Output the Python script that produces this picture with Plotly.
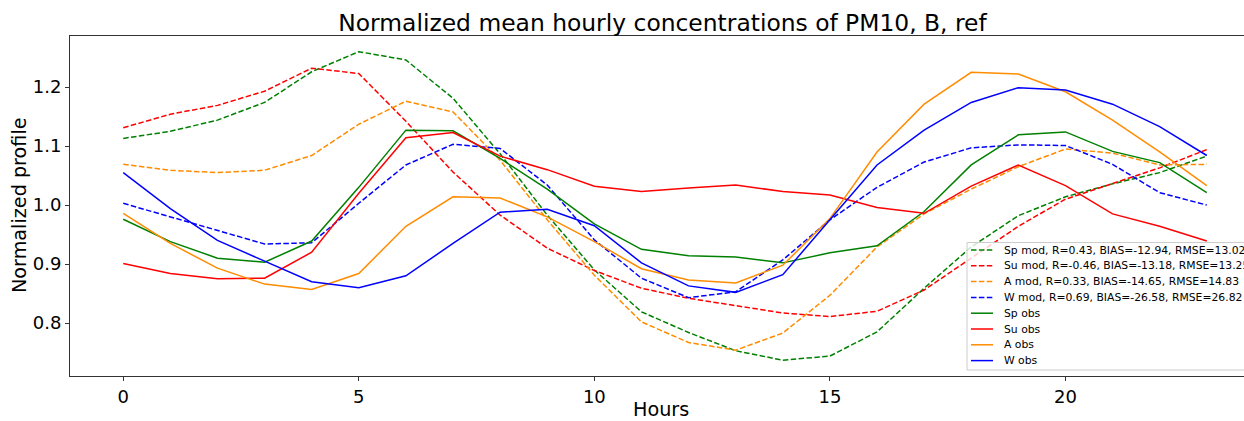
import plotly.graph_objects as go

hours = list(range(24))

sp_mod = [1.113, 1.125, 1.144, 1.174, 1.226, 1.260, 1.246, 1.181, 1.087, 0.983, 0.890, 0.819,
          0.784, 0.753, 0.737, 0.744, 0.785, 0.859, 0.929, 0.982, 1.014, 1.036, 1.055, 1.083]
su_mod = [1.131, 1.154, 1.169, 1.193, 1.232, 1.223, 1.142, 1.056, 0.983, 0.927, 0.889, 0.859,
          0.842, 0.829, 0.817, 0.811, 0.820, 0.856, 0.910, 0.964, 1.010, 1.036, 1.063, 1.094]
a_mod = [1.069, 1.059, 1.055, 1.059, 1.084, 1.137, 1.176, 1.158, 1.076, 0.975, 0.881, 0.802,
         0.767, 0.754, 0.783, 0.847, 0.929, 0.985, 1.027, 1.065, 1.095, 1.088, 1.068, 1.069]
w_mod = [1.003, 0.980, 0.958, 0.934, 0.936, 1.003, 1.068, 1.103, 1.096, 1.034, 0.941, 0.876,
         0.843, 0.853, 0.907, 0.975, 1.030, 1.073, 1.097, 1.102, 1.101, 1.069, 1.021, 1.000]
sp_obs = [0.976, 0.938, 0.910, 0.903, 0.939, 1.030, 1.127, 1.126, 1.079, 1.027, 0.968, 0.925,
          0.914, 0.912, 0.902, 0.919, 0.931, 0.989, 1.068, 1.119, 1.124, 1.091, 1.072, 1.021]
su_obs = [0.901, 0.884, 0.875, 0.876, 0.920, 1.020, 1.114, 1.123, 1.083, 1.060, 1.032, 1.023,
          1.029, 1.034, 1.023, 1.017, 0.996, 0.986, 1.032, 1.068, 1.033, 0.985, 0.964, 0.939]
a_obs = [0.986, 0.935, 0.893, 0.866, 0.857, 0.884, 0.964, 1.014, 1.012, 0.980, 0.938, 0.892,
         0.873, 0.868, 0.898, 0.977, 1.090, 1.171, 1.225, 1.222, 1.192, 1.144, 1.090, 1.033]
w_obs = [1.055, 0.994, 0.940, 0.905, 0.870, 0.860, 0.880, 0.935, 0.988, 0.993, 0.965, 0.902,
         0.863, 0.852, 0.882, 0.975, 1.068, 1.127, 1.174, 1.199, 1.195, 1.171, 1.133, 1.084]

mod_names = ["Sp mod, R=0.43, BIAS=-12.94, RMSE=13.02",
             "Su mod, R=-0.46, BIAS=-13.18, RMSE=13.25",
             "A mod, R=0.33, BIAS=-14.65, RMSE=14.83",
             "W mod, R=0.69, BIAS=-26.58, RMSE=26.82"]
obs_names = ["Sp obs", "Su obs", "A obs", "W obs"]
colors = ["green", "red", "darkorange", "blue"]
DASH = "5.5px,2.4px"

W, H = 1244, 421
L, R, T, B = 70, 0, 36, 45
PW, PH = W - L - R, H - T - B


def px(x):
    return (x - L) / PW


def py(y):
    return (H - B - y) / PH


fig = go.Figure()
entries = []
for name, ys, c in zip(mod_names, [sp_mod, su_mod, a_mod, w_mod], colors):
    fig.add_trace(go.Scatter(x=hours, y=ys, mode="lines", name=name,
                             line=dict(color=c, width=1.5, dash=DASH)))
    entries.append((name, c, DASH))
for name, ys, c in zip(obs_names, [sp_obs, su_obs, a_obs, w_obs], colors):
    fig.add_trace(go.Scatter(x=hours, y=ys, mode="lines", name=name,
                             line=dict(color=c, width=1.5)))
    entries.append((name, c, "solid"))

font = "DejaVu Sans"

# legend drawn as a box with line samples and texts (matplotlib-like compact legend)
shapes = [dict(type="rect", xref="paper", yref="paper",
               x0=px(967), x1=px(1250), y0=py(370), y1=py(242.5),
               fillcolor="rgba(255,255,255,0.8)", line=dict(color="#cccccc", width=1),
               layer="above")]
annotations = []
for i, (name, c, d) in enumerate(entries):
    yy = 250 + i * 15.8
    shapes.append(dict(type="line", xref="paper", yref="paper",
                       x0=px(971), x1=px(993), y0=py(yy), y1=py(yy),
                       line=dict(color=c, width=1.5, dash=d), layer="above"))
    annotations.append(dict(text=name, xref="paper", yref="paper", x=px(1001.5), y=py(yy),
                            xanchor="left", yanchor="middle", showarrow=False,
                            font=dict(size=10.8, family=font, color="black")))

# axis titles (x title centred on the full matplotlib axis, which runs past the crop)
annotations.append(dict(text="Hours", xref="paper", yref="paper", x=px(661), y=py(409),
                        xanchor="center", yanchor="middle", showarrow=False,
                        font=dict(size=19.2, family=font, color="black")))
annotations.append(dict(text="Normalized profile", xref="paper", yref="paper", x=px(19), y=py(205),
                        xanchor="center", yanchor="middle", showarrow=False, textangle=-90,
                        font=dict(size=19.2, family=font, color="black")))

fig.update_layout(
    width=W, height=H,
    margin=dict(l=L, r=R, t=T, b=B, autoexpand=False),
    paper_bgcolor="white", plot_bgcolor="white",
    font=dict(family=font, color="black"),
    title=dict(text="Normalized mean hourly concentrations of PM10, B, ref",
               x=(336 + 989) / 2 / W, xanchor="center", y=1 - 23 / H, yanchor="middle",
               font=dict(size=23.4, family=font, color="black")),
    showlegend=False,
    shapes=shapes,
    annotations=annotations,
)
fig.update_xaxes(range=[-1.13, 23.79], tickvals=[0, 5, 10, 15, 20], showgrid=False, zeroline=False,
                 showline=True, linecolor="#333333", linewidth=1, mirror=True,
                 ticks="outside", ticklen=4, tickcolor="#333333",
                 tickfont=dict(size=18, family=font))
fig.update_yaxes(range=[0.7102, 1.2866], tickvals=[0.8, 0.9, 1.0, 1.1, 1.2],
                 ticktext=["0.8", "0.9", "1.0", "1.1", "1.2"], showgrid=False, zeroline=False,
                 showline=True, linecolor="#333333", linewidth=1,
                 ticks="outside", ticklen=4, tickcolor="#333333",
                 tickfont=dict(size=18, family=font))

fig.write_html("out.html", config={"displayModeBar": False},
               post_script="document.body.style.margin='0';document.body.style.overflow='hidden';")
